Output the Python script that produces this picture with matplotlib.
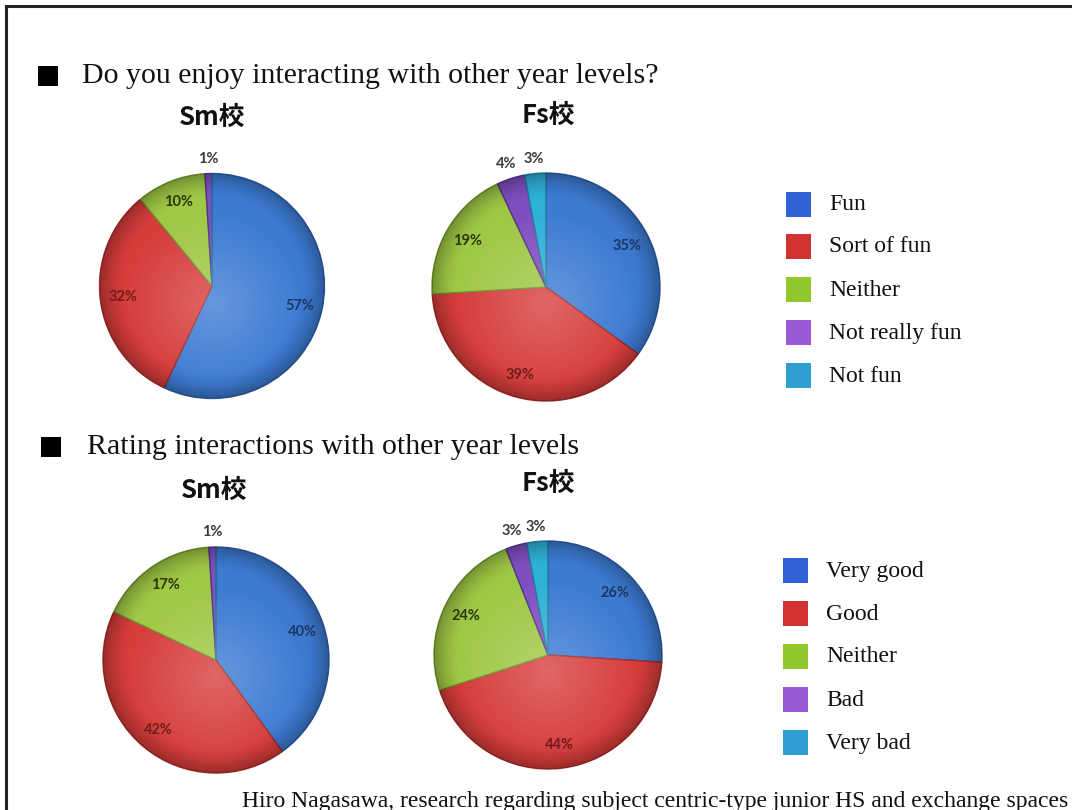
import numpy as np
import matplotlib
matplotlib.use("Agg")
import matplotlib.pyplot as plt
from matplotlib.patches import Rectangle, Circle
from matplotlib.lines import Line2D

# survey results, in percent, clockwise from 12 o'clock
enjoy_labels = ["Fun", "Sort of fun", "Neither", "Not really fun", "Not fun"]
enjoy_sm = [57, 32, 10, 1, 0]
enjoy_fs = [35, 39, 19, 4, 3]

rating_labels = ["Very good", "Good", "Neither", "Bad", "Very bad"]
rating_sm = [40, 42, 17, 1, 0]
rating_fs = [26, 44, 24, 3, 3]

school_names = ["Sm校", "Fs校"]
heading_enjoy = "Do you enjoy interacting with other year levels?"
heading_rating = "Rating interactions with other year levels"
footer = "Hiro Nagasawa, research regarding subject centric-type junior HS and exchange spaces"

wedge_colors = ["#3d7bd3", "#d63d3b", "#9fc845", "#7f4fc0", "#2fb0d6"]
edge_colors = ["#2a5a9e", "#9e2b2a", "#6f8f2c", "#553389", "#1f7fa0"]
text_colors = ["#1d3663", "#6e1d1b", "#2b3610", "#3a3a3a", "#3a3a3a"]
legend_colors = ["#2f62d2", "#d23232", "#92c82e", "#9a5ad6", "#2f9fd2"]

W, H = 1072, 810
fig = plt.figure(figsize=(W / 100, H / 100), dpi=100)
fig.patch.set_facecolor("white")

LIM = 1.3


def pie_axes(cx, cy, r):
    size = 2 * LIM * r
    ax = fig.add_axes([(cx - size / 2) / W, (H - cy - size / 2) / H, size / W, size / H])
    ax.set_xlim(-LIM, LIM)
    ax.set_ylim(-LIM, LIM)
    ax.set_aspect("equal")
    ax.axis("off")
    return ax


def draw_pie(ax, values):
    wedges, _ = ax.pie(values, colors=wedge_colors, startangle=90, counterclock=False,
                       radius=1, wedgeprops=dict(linewidth=1.0))
    for w, ec in zip(wedges, edge_colors):
        w.set_edgecolor(ec)

    # soft highlight in the middle and darker rim
    n = 300
    yy, xx = np.mgrid[-1:1:n * 1j, -1:1:n * 1j]
    rr = np.sqrt(xx ** 2 + (yy + 0.15) ** 2)
    light = np.zeros((n, n, 4))
    light[..., :3] = 1.0
    light[..., 3] = 0.22 * np.clip(1 - rr / 0.8, 0, 1)
    rim = np.zeros((n, n, 4))
    r0 = np.sqrt(xx ** 2 + yy ** 2)
    rim[..., 3] = 0.28 * np.clip((r0 - 0.78) / 0.22, 0, 1) ** 1.5
    clip = Circle((0, 0), 1, transform=ax.transData)
    for img in (light, rim):
        im = ax.imshow(img, extent=[-1, 1, -1, 1], origin="lower", zorder=3)
        im.set_clip_path(clip)
    ax.set_xlim(-LIM, LIM)
    ax.set_ylim(-LIM, LIM)

    # percentage labels
    total = sum(values)
    start = 90.0
    for v, tc in zip(values, text_colors):
        sweep = 360.0 * v / total
        mid = np.deg2rad(start - sweep / 2)
        start -= sweep
        if v == 0:
            continue
        if v < 5:
            d, col = 1.13, "#3a3a3a"
        else:
            d, col = 0.8, tc
        ax.text(d * np.cos(mid), d * np.sin(mid), f"{v}%", ha="center", va="center",
                fontsize=10.5, fontweight="bold", color=col, family="Lato", zorder=5)


def draw_legend(x0, y_rows, labels):
    for y, lab, c in zip(y_rows, labels, legend_colors):
        fig.patches.append(Rectangle(((x0) / W, (H - y - 12) / H), 25 / W, 25 / H,
                                     transform=fig.transFigure, facecolor=c,
                                     edgecolor="none"))
        fig.text((x0 + 43) / W, (H - y) / H, lab, ha="left", va="center",
                 fontsize=17, family="Liberation Serif", color="#111111")


def heading(x_sq, y, text, x_txt):
    fig.patches.append(Rectangle((x_sq / W, (H - y - 10) / H), 20 / W, 20 / H,
                                 transform=fig.transFigure, facecolor="black",
                                 edgecolor="none"))
    fig.text(x_txt / W, (H - y) / H, text, ha="left", va="center", fontsize=21.5,
             family="Liberation Serif", color="#111111")


# frame around the slide
fig.add_artist(Line2D([6 / W, 6 / W], [0, (H - 6) / H], color="#222222", lw=2.2,
                      transform=fig.transFigure))
fig.add_artist(Line2D([6 / W, 1], [(H - 6) / H, (H - 6) / H], color="#222222", lw=2.2,
                      transform=fig.transFigure))

heading(38, 76, heading_enjoy, 82)
heading(41, 447, heading_rating, 87)

cjk = ["Noto Sans CJK JP", "DejaVu Sans"]
for name, x, y in zip(school_names, [212, 548], [117, 115]):
    fig.text(x / W, (H - y) / H, name, ha="center", va="center", fontsize=18.5,
             fontweight="bold", family=cjk, color="#111111")
for name, x, y in zip(school_names, [214, 548], [490, 483]):
    fig.text(x / W, (H - y) / H, name, ha="center", va="center", fontsize=18.5,
             fontweight="bold", family=cjk, color="#111111")

draw_pie(pie_axes(212, 286, 112.5), enjoy_sm)
draw_pie(pie_axes(546, 287, 114), enjoy_fs)
draw_pie(pie_axes(216, 660, 113), rating_sm)
draw_pie(pie_axes(548, 655, 114), rating_fs)

draw_legend(786, [205, 247, 290, 333, 376], enjoy_labels)
draw_legend(783, [571, 614, 657, 700, 743], rating_labels)

fig.text(1068 / W, (H - 801) / H, footer, ha="right", va="center", fontsize=17,
         family="Liberation Serif", color="#111111")

fig.savefig("out.png", dpi=100)
